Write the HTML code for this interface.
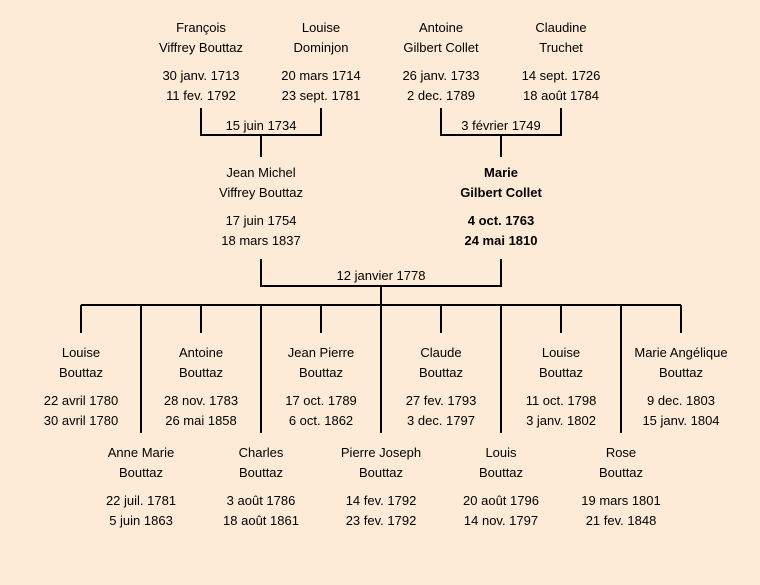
<!DOCTYPE html>
<html><head><meta charset="utf-8"><style>
html,body{margin:0;padding:0;background:#fdebd7;}
svg{display:block}
text{font-family:"Liberation Sans",sans-serif;font-size:13px;fill:#000;text-anchor:middle}
.b{font-weight:bold}
</style></head><body>
<svg width="760" height="585" viewBox="0 0 760 585">
<rect width="760" height="585" fill="#fdebd7"/>
<g stroke="#000" stroke-width="2" fill="none">
<path d="M201 108V135H321V108M261 135V157"/>
<path d="M441 108V135H561V108M501 135V157"/>
<path d="M261 259V286H501V259M381 286V305"/>
<path d="M81 305H681"/>
<path d="M81 305V333M201 305V333M321 305V333M441 305V333M561 305V333M681 305V333"/>
<path d="M141 305V433M261 305V433M381 305V433M501 305V433M621 305V433"/>
</g>
<g>
<text x="201" y="32">François</text><text x="201" y="52">Viffrey Bouttaz</text>
<text x="201" y="80">30 janv. 1713</text><text x="201" y="100">11 fev. 1792</text>
<text x="321" y="32">Louise</text><text x="321" y="52">Dominjon</text>
<text x="321" y="80">20 mars 1714</text><text x="321" y="100">23 sept. 1781</text>
<text x="441" y="32">Antoine</text><text x="441" y="52">Gilbert Collet</text>
<text x="441" y="80">26 janv. 1733</text><text x="441" y="100">2 dec. 1789</text>
<text x="561" y="32">Claudine</text><text x="561" y="52">Truchet</text>
<text x="561" y="80">14 sept. 1726</text><text x="561" y="100">18 août 1784</text>
<text x="261" y="130">15 juin 1734</text>
<text x="501" y="130">3 février 1749</text>
<text x="261" y="177">Jean Michel</text><text x="261" y="197">Viffrey Bouttaz</text>
<text x="261" y="225">17 juin 1754</text><text x="261" y="245">18 mars 1837</text>
<g class="b"><text class="b" x="501" y="177">Marie</text><text class="b" x="501" y="197">Gilbert Collet</text>
<text class="b" x="501" y="225">4 oct. 1763</text><text class="b" x="501" y="245">24 mai 1810</text></g>
<text x="381" y="280">12 janvier 1778</text>

<text x="81" y="357">Louise</text><text x="81" y="377">Bouttaz</text>
<text x="81" y="405">22 avril 1780</text><text x="81" y="425">30 avril 1780</text>
<text x="201" y="357">Antoine</text><text x="201" y="377">Bouttaz</text>
<text x="201" y="405">28 nov. 1783</text><text x="201" y="425">26 mai 1858</text>
<text x="321" y="357">Jean Pierre</text><text x="321" y="377">Bouttaz</text>
<text x="321" y="405">17 oct. 1789</text><text x="321" y="425">6 oct. 1862</text>
<text x="441" y="357">Claude</text><text x="441" y="377">Bouttaz</text>
<text x="441" y="405">27 fev. 1793</text><text x="441" y="425">3 dec. 1797</text>
<text x="561" y="357">Louise</text><text x="561" y="377">Bouttaz</text>
<text x="561" y="405">11 oct. 1798</text><text x="561" y="425">3 janv. 1802</text>
<text x="681" y="357">Marie Angélique</text><text x="681" y="377">Bouttaz</text>
<text x="681" y="405">9 dec. 1803</text><text x="681" y="425">15 janv. 1804</text>

<text x="141" y="457">Anne Marie</text><text x="141" y="477">Bouttaz</text>
<text x="141" y="505">22 juil. 1781</text><text x="141" y="525">5 juin 1863</text>
<text x="261" y="457">Charles</text><text x="261" y="477">Bouttaz</text>
<text x="261" y="505">3 août 1786</text><text x="261" y="525">18 août 1861</text>
<text x="381" y="457">Pierre Joseph</text><text x="381" y="477">Bouttaz</text>
<text x="381" y="505">14 fev. 1792</text><text x="381" y="525">23 fev. 1792</text>
<text x="501" y="457">Louis</text><text x="501" y="477">Bouttaz</text>
<text x="501" y="505">20 août 1796</text><text x="501" y="525">14 nov. 1797</text>
<text x="621" y="457">Rose</text><text x="621" y="477">Bouttaz</text>
<text x="621" y="505">19 mars 1801</text><text x="621" y="525">21 fev. 1848</text>
</g>
</svg>
</body></html>
